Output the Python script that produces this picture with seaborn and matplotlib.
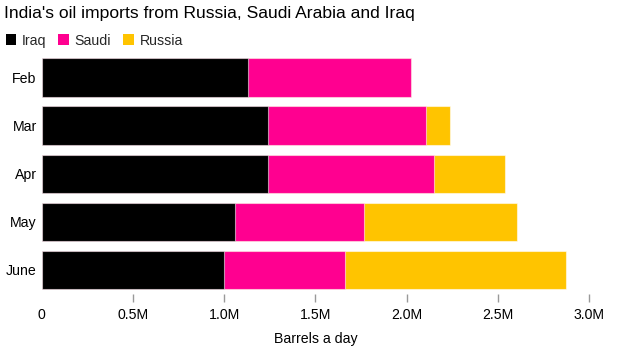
import matplotlib
matplotlib.use("Agg")
import matplotlib.pyplot as plt
from matplotlib.patches import Patch
from matplotlib.ticker import FuncFormatter
import seaborn as sns
import pandas as pd
import numpy as np

# Monthly imports, barrels per day
months = ["Feb", "Mar", "Apr", "May", "June"]
iraq = [1.129e6, 1.239e6, 1.243e6, 1.062e6, 1.002e6]
saudi = [0.893e6, 0.865e6, 0.905e6, 0.703e6, 0.662e6]
russia = [0.0, 0.131e6, 0.389e6, 0.837e6, 1.207e6]

series_names = ["Iraq", "Saudi", "Russia"]
colors = {"Iraq": "#000000", "Saudi": "#ff0090", "Russia": "#ffc400"}

sns.set_theme(style="white")
plt.rcParams["font.family"] = ["Liberation Sans", "DejaVu Sans"]

df = pd.DataFrame({"month": months, "Iraq": iraq, "Saudi": saudi, "Russia": russia})
# cumulative ends for stacking: draw longest first, then overlay shorter segments
df["end_Iraq"] = df["Iraq"]
df["end_Saudi"] = df["Iraq"] + df["Saudi"]
df["end_Russia"] = df["end_Saudi"] + df["Russia"]

fig = plt.figure(figsize=(6.26, 3.49), dpi=100)
ax = fig.add_axes([0.0663, 0.1576, 0.875, 0.6888])

for name in ["Russia", "Saudi", "Iraq"]:
    sns.barplot(data=df, y="month", x=f"end_{name}", orient="h", order=months,
                color=colors[name], saturation=1, width=0.8,
                edgecolor=(1, 1, 1, 0.55), linewidth=0.8, ax=ax)

fs = 10.2
ax.set_xlim(0, 3.0e6)
ax.set_ylim(4.5, -0.5)
ax.set_xticks(np.arange(0, 3.01e6, 0.5e6))
ax.xaxis.set_major_formatter(FuncFormatter(lambda v, p: "0" if v == 0 else f"{v/1e6:.1f}M"))
ax.tick_params(axis="x", bottom=True, length=6, width=1, color="#999999",
               pad=4, labelsize=fs, labelcolor="#000000")
ax.tick_params(axis="y", left=False, length=0, pad=3.5, labelsize=fs, labelcolor="#000000")
ax.xaxis.get_major_ticks()[0].tick1line.set_visible(False)
for s in ax.spines.values():
    s.set_visible(False)
ax.set_ylabel("")
ax.set_xlabel("Barrels a day", fontsize=fs, color="#000000", labelpad=7)

fig.text(0.006, 0.961, "India's oil imports from Russia, Saudi Arabia and Iraq",
         fontsize=12.6, color="#000000", ha="left", va="center")

handles = [Patch(facecolor=colors[n], edgecolor="none", label=n) for n in series_names]
fig.legend(handles=handles, loc="upper left", bbox_to_anchor=(0.0, 0.92), ncol=3,
           frameon=False, fontsize=fs, handlelength=0.75, handleheight=0.75,
           handletextpad=0.4, columnspacing=0.85, borderaxespad=0.2, borderpad=0.2)

fig.savefig("out.png", dpi=100)
